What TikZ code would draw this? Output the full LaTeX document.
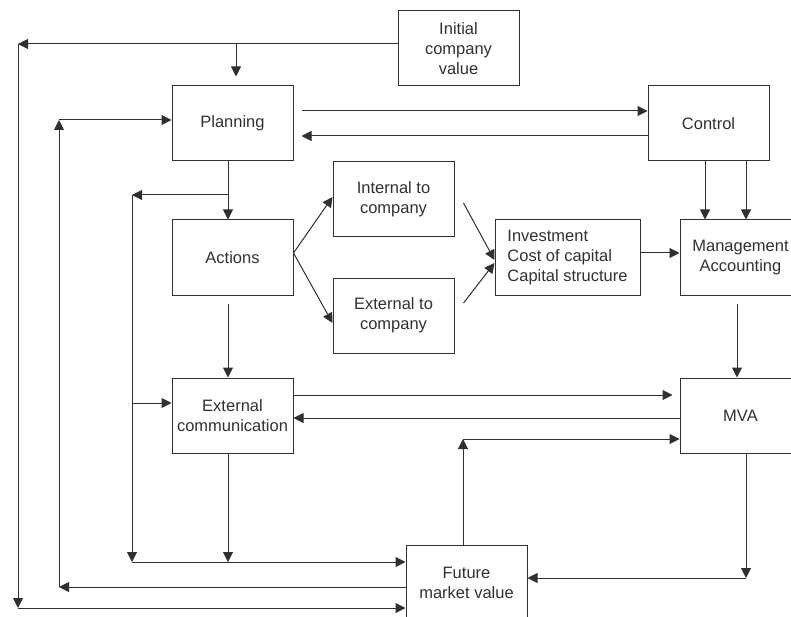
\documentclass[tikz,border=0pt]{standalone}
\usepackage{fontspec}
\setmainfont{Liberation Sans}
\usetikzlibrary{arrows.meta}
\definecolor{ink}{HTML}{303030}
\begin{document}
\begin{tikzpicture}[x=1pt,y=-1pt,
  box/.style={draw=ink, line width=1pt, minimum width=121pt, minimum height=75pt, inner sep=0pt, align=center, text=ink, font=\fontsize{16.5}{20}\selectfont},
  arr/.style={draw=ink, line width=1pt, -{Triangle[length=10pt,width=10pt]}},
  ln/.style={draw=ink, line width=1pt}]
\useasboundingbox (0,0) rectangle (791,617);
\clip (0,0) rectangle (791,617);
% nodes
\node[box] (init) at (458.5,48.5) {Initial\\company\\value};
\node[box] (plan) at (232.5,123.5) {Planning};
\node[box] (ctrl) at (708.5,123.5) {Control};
\node[box] (act)  at (232.5,257.5) {Actions};
\node[box] (intl) at (393.5,199.5) {Internal to\\company};
\node[box] (extl) at (393.5,315.5) {External to\\company};
\node[box, minimum width=145pt, align=left] (inv) at (567.5,257.5) {Investment\\Cost of capital\\Capital structure};
\node[box] (mgmt) at (740.5,257.5) {Management\\Accounting};
\node[box] (mva)  at (740.5,415.5) {MVA};
\node[box] (extc) at (232.5,415.5) {External\\communication};
\node[box] (fmv)  at (466.5,582.5) {Future\\market value};
% coordinates
\coordinate (tl) at (18,44);
\coordinate (bl) at (18,608);
\coordinate (ml) at (59,587);
\coordinate (mt) at (59,120);
\coordinate (it) at (132,195);
\coordinate (ib) at (132,562);
\coordinate (ie) at (132,403);
\coordinate (pb) at (228,195);
\coordinate (dn) at (236,44);
\coordinate (ft) at (463,439);
\coordinate (mb) at (746,578);
% outer loop
\draw[arr] (init.west |- tl) -- (tl);
\draw[arr, shorten >=9pt] (dn) -- (plan.north -| dn);
\draw[arr] (tl) -- (bl);
\draw[arr] (bl) -- (fmv.west |- bl);
\draw[arr] (fmv.west |- ml) -- (ml);
\draw[arr] (ml) -- (mt);
\draw[arr] (mt) -- (plan.west |- mt);
% planning / control
\draw[arr, shorten <=8pt] ([yshift=12.5pt]plan.east) -- ([yshift=12.5pt]ctrl.west);
\draw[arr, shorten >=8pt] ([yshift=-12.5pt]ctrl.west) -- ([yshift=-12.5pt]plan.east);
% planning -> actions, inner loop
\draw[arr] (plan.south -| pb) -- (act.north -| pb);
\draw[arr] (pb) -- (it);
\draw[arr] (it) -- (ib);
\draw[arr] (ib) -- (fmv.west |- ib);
\draw[arr] (ie) -- (extc.west |- ie);
\draw[arr, shorten <=8pt] (act.south -| pb) -- (extc.north -| pb);
\draw[arr] (extc.south -| pb) -- (ib -| pb);
% actions branches
\draw[arr] ([yshift=4.5pt]act.east) -- ([yshift=2.5pt]intl.west);
\draw[arr] ([yshift=4.5pt]act.east) -- ([yshift=-7.5pt]extl.west);
\draw[arr] ([xshift=9pt,yshift=-3.5pt]intl.east) -- ([yshift=-2.5pt]inv.west);
\draw[arr] ([xshift=9pt,yshift=12.5pt]extl.east) -- ([yshift=-5.5pt]inv.west);
\draw[arr] ([yshift=4.5pt]inv.east) -- ([yshift=4.5pt]mgmt.west);
% control -> management
\draw[arr] ([xshift=-3.5pt]ctrl.south) -- ([xshift=-3.5pt]ctrl.south |- mgmt.north);
\draw[arr] ([xshift=37.5pt]ctrl.south) -- ([xshift=37.5pt]ctrl.south |- mgmt.north);
\draw[arr, shorten <=8pt] ([xshift=-3.5pt]mgmt.south) -- ([xshift=-3.5pt]mva.north);
% external communication <-> MVA
\draw[arr, shorten >=7pt] ([yshift=20.5pt]extc.east) -- ([yshift=20.5pt]mva.west);
\draw[arr] ([yshift=-2.5pt]mva.west) -- ([yshift=-2.5pt]extc.east);
% future market value <-> MVA
\draw[arr] ([xshift=-3.5pt]fmv.north) -- (ft);
\draw[arr] (ft) -- (mva.west |- ft);
\draw[arr] ([xshift=5.5pt]mva.south) -- (mb);
\draw[arr] (mb) -- (fmv.east |- mb);
\end{tikzpicture}
\end{document}
